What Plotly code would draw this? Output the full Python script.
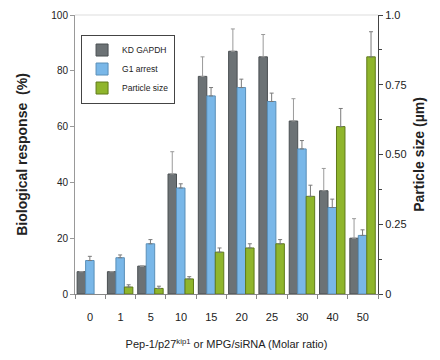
import plotly.graph_objects as go

categories = ["0", "1", "5", "10", "15", "20", "25", "30", "40", "50"]
kd_gapdh = [8, 8, 10, 43, 78, 87, 85, 62, 37, 20]
kd_err = [0, 0, 0, 8, 7, 8, 8, 8, 8, 7]
g1_arrest = [12, 13, 18, 38, 71, 74, 69, 52, 31, 21]
g1_err = [1.5, 1, 1.5, 1.5, 3, 3, 3, 3, 3, 2]
particle = [None, 0.025, 0.02, 0.054, 0.15, 0.165, 0.18, 0.35, 0.60, 0.85]
particle_err = [0, 0.008, 0.008, 0.008, 0.015, 0.015, 0.015, 0.04, 0.065, 0.09]

GREY = "#6c7275"
BLUE = "#79b7e8"
GREEN = "#8fb52c"
W = 0.28

fig = go.Figure()
fig.add_trace(go.Bar(
    x=categories, y=kd_gapdh, name="KD GAPDH", width=W, offset=-0.43,
    marker=dict(color=GREY, line=dict(color="#4a4f52", width=1)),
    error_y=dict(type="data", array=kd_err, arrayminus=[0]*10, symmetric=False,
                 color="#9a9a9a", thickness=1, width=2),
))
fig.add_trace(go.Bar(
    x=categories, y=g1_arrest, name="G1 arrest", width=W, offset=-0.15,
    marker=dict(color=BLUE, line=dict(color="#5a8fb8", width=1)),
    error_y=dict(type="data", array=g1_err, arrayminus=[0]*10, symmetric=False,
                 color="#7a7a7a", thickness=1, width=2),
))
fig.add_trace(go.Bar(
    x=categories, y=particle, name="Particle size", width=W, offset=0.13,
    yaxis="y2",
    marker=dict(color=GREEN, line=dict(color="#5f7a1a", width=1)),
    error_y=dict(type="data", array=particle_err, arrayminus=[0]*10, symmetric=False,
                 color="#7a7a7a", thickness=1, width=2),
))

font_main = "Liberation Sans, Arial, sans-serif"
fig.update_layout(
    width=432, height=352,
    margin=dict(l=67, r=62, t=7, b=66),
    paper_bgcolor="white", plot_bgcolor="white",
    font=dict(family=font_main, color="#222222", size=11),
    showlegend=True,
    legend=dict(x=0.02, y=0.93, xanchor="left", yanchor="top",
                bgcolor="white", bordercolor="#444444", borderwidth=1,
                font=dict(size=8.5, color="#222222"),
                itemwidth=30, tracegroupgap=0),
    xaxis=dict(
        type="category", showline=True, linecolor="#888888", linewidth=1,
        ticks="outside", tickson="boundaries", ticklen=4, tickcolor="#888888",
        mirror=False, showgrid=False, automargin=False,
        ticklabelstandoff=13,
        tickfont=dict(size=11, color="#222222"),
        title=dict(text="Pep-1/p27<sup>kip1</sup> or MPG/siRNA (Molar ratio)",
                   font=dict(size=11, color="#222222"), standoff=18),
    ),
    yaxis=dict(
        range=[0, 100], tickvals=[0, 20, 40, 60, 80, 100],
        showline=True, linecolor="#999999", linewidth=1,
        ticks="outside", ticklen=4, tickcolor="#999999", showgrid=False,
        automargin=False,
        tickfont=dict(size=10, color="#222222"),
        title=dict(text="<b>Biological response  (%)</b>",
                   font=dict(size=14, color="#222222"), standoff=20),
        zeroline=False,
    ),
    yaxis2=dict(
        overlaying="y", side="right", range=[0, 1.0],
        tickvals=[0, 0.25, 0.5, 0.75, 1.0],
        ticktext=["0", "0.25", "0.50", "0.75", "1.0"],
        showline=True, linecolor="#444444", linewidth=1,
        ticks="outside", ticklen=4, tickcolor="#444444", showgrid=False,
        minor=dict(dtick=0.125, ticks="outside", ticklen=3, tickcolor="#444444"),
        automargin=False,
        tickfont=dict(size=11, color="#222222"),
        title=dict(text="<b>Particle size (µm)</b>",
                   font=dict(size=14, color="#222222"), standoff=8),
        zeroline=False,
    ),
    shapes=[dict(type="line", xref="paper", yref="paper", x0=0, x1=1, y0=1, y1=1,
                 line=dict(color="#dddddd", width=1))],
)

fig.write_html("out.html")
